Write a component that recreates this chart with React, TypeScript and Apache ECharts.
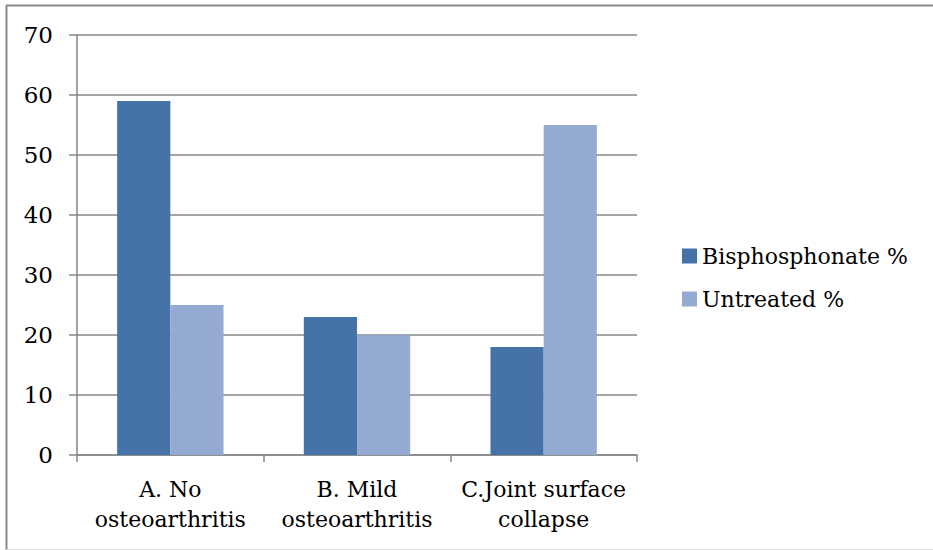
import React, { useEffect, useRef } from "react";
import * as echarts from "echarts";

const categories = ["A. No\nosteoarthritis", "B. Mild\nosteoarthritis", "C.Joint surface\ncollapse"];
const bisphosphonate = [59, 23, 18];
const untreated = [25, 20, 55];
const seriesNames = ["Bisphosphonate %", "Untreated %"];

const FONT = "DejaVu Serif";
const GRAY = "#878787";

export default function App() {
  const ref = useRef<HTMLDivElement>(null);
  useEffect(() => {
    document.body.style.margin = "0";
    const chart = echarts.init(ref.current!, null, { renderer: "svg" });
    chart.setOption({
      animation: false,
      backgroundColor: "#ffffff",
      textStyle: { fontFamily: FONT },
      graphic: [
        { type: "line", shape: { x1: 6.5, y1: 5, x2: 6.5, y2: 550 }, style: { stroke: "#8a8a8a", lineWidth: 2 } },
        { type: "line", shape: { x1: 6, y1: 5.5, x2: 933, y2: 5.5 }, style: { stroke: "#8a8a8a", lineWidth: 2 } },
        { type: "line", shape: { x1: 6, y1: 549.5, x2: 933, y2: 549.5 }, style: { stroke: "#d9d9d9", lineWidth: 1 } },
      ],
      grid: { left: 77, right: 296, top: 35, bottom: 95 },
      legend: {
        orient: "vertical",
        left: 677,
        top: 240,
        itemWidth: 15,
        itemHeight: 15,
        itemGap: 21,
        icon: "rect",
        textStyle: { fontFamily: FONT, fontSize: 22, color: "#000" },
        data: seriesNames,
      },
      xAxis: {
        type: "category",
        data: categories,
        axisLine: { lineStyle: { color: GRAY, width: 1.5 } },
        axisTick: { show: true, length: 7, lineStyle: { color: GRAY, width: 1.5 } },
        axisLabel: { fontFamily: FONT, fontSize: 22, color: "#000", lineHeight: 30, margin: 19, interval: 0 },
      },
      yAxis: {
        type: "value",
        min: 0,
        max: 70,
        interval: 10,
        axisLine: { show: true, lineStyle: { color: GRAY, width: 1.5 } },
        axisTick: { show: true, length: 8, lineStyle: { color: GRAY, width: 1.5 } },
        axisLabel: { fontFamily: FONT, fontSize: 23, color: "#000", margin: 24 },
        splitLine: { lineStyle: { color: GRAY, width: 1.5 } },
      },
      series: [
        {
          name: seriesNames[0],
          type: "bar",
          data: bisphosphonate,
          itemStyle: { color: "#4572A7" },
          barGap: "0%",
          barCategoryGap: "43%",
        },
        {
          name: seriesNames[1],
          type: "bar",
          data: untreated,
          itemStyle: { color: "#95AAD2" },
          barGap: "0%",
          barCategoryGap: "43%",
        },
      ],
    });
    return () => chart.dispose();
  }, []);
  return <div ref={ref} style={{ position: "fixed", left: 0, top: 0, width: 933, height: 550 }} />;
}
